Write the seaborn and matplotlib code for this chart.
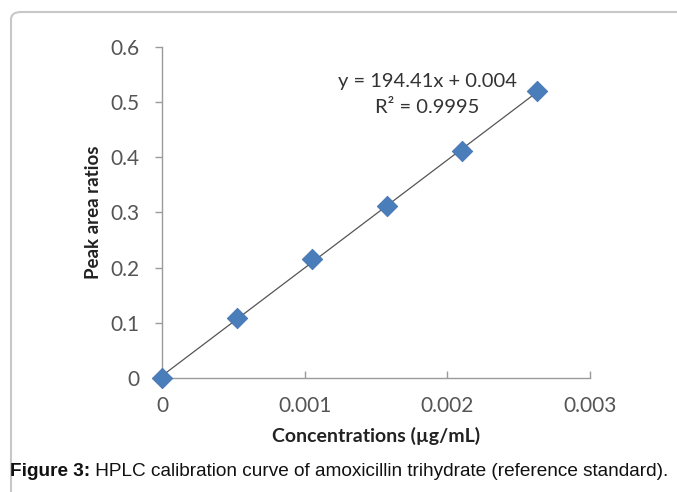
import numpy as np
import pandas as pd
import seaborn as sns
import matplotlib.pyplot as plt
from matplotlib.patches import FancyBboxPatch

conc = [0.0, 0.000526, 0.001052, 0.001578, 0.002104, 0.00263]
ratio = [0.0, 0.109, 0.216, 0.311, 0.411, 0.520]
xticks = [0, 0.001, 0.002, 0.003]
xtick_labels = ["0", "0.001", "0.002", "0.003"]
yticks = [0, 0.1, 0.2, 0.3, 0.4, 0.5, 0.6]
ytick_labels = ["0", "0.1", "0.2", "0.3", "0.4", "0.5", "0.6"]
equation = "y = 194.41x + 0.004"
r2_text = "R² = 0.9995"
caption_bold = "Figure 3:"
caption_rest = " HPLC calibration curve of amoxicillin trihydrate (reference standard)."

df = pd.DataFrame({"conc": conc, "ratio": ratio})

sns.set_theme(style="white")
plt.rcParams['font.family'] = ['Lato', 'DejaVu Sans']

W, H = 677, 492
fig = plt.figure(figsize=(W / 100, H / 100), dpi=100)
fig.patch.set_facecolor("white")

# panel border (only top/left visible, continues beyond image)
border = FancyBboxPatch((11 / W, -0.1), 1.2, (H - 12) / H + 0.1,
                        boxstyle="round,pad=0,rounding_size=0.015",
                        transform=fig.transFigure, facecolor="none",
                        edgecolor="#c8c8c8", linewidth=1.5, clip_on=False)
fig.patches.append(border)

ax = fig.add_axes([162 / W, 1 - 378 / H, (590 - 162) / W, (378 - 47) / H])

sns.regplot(data=df, x="conc", y="ratio", ax=ax, scatter=False, ci=None,
            truncate=True, line_kws=dict(color="#555555", linewidth=0.9))
sns.scatterplot(data=df, x="conc", y="ratio", ax=ax, marker="D", s=110,
                color="#4a7ebb", edgecolor="#3e6fae", linewidth=0.5, zorder=5,
                clip_on=False)

ax.set_xlim(0, 0.003)
ax.set_ylim(0, 0.6)
ax.set_xticks(xticks)
ax.set_xticklabels(xtick_labels)
ax.set_yticks(yticks)
ax.set_yticklabels(ytick_labels)

for s in ["top", "right"]:
    ax.spines[s].set_visible(False)
for s in ["left", "bottom"]:
    ax.spines[s].set_color("#9a9a9a")
    ax.spines[s].set_linewidth(1.0)

ax.tick_params(axis="y", direction="out", length=5, width=1, color="#9a9a9a",
               labelsize=15, labelcolor="#555555", pad=11, left=True)
ax.tick_params(axis="x", direction="in", length=5, width=1, color="#9a9a9a",
               labelsize=15, labelcolor="#555555", pad=13, bottom=True)

ax.set_xlabel("Concentrations (µg/mL)", fontsize=14, fontweight="bold",
              color="#222222", labelpad=8)
ax.set_ylabel("Peak area ratios", fontsize=13.5, fontweight="bold",
              color="#222222", labelpad=6)

ax.text(0.00186, 0.5366, equation, ha="center", va="center", fontsize=14.5,
        color="#333333")
ax.text(0.00186, 0.4910, r2_text, ha="center", va="center", fontsize=14.5,
        color="#333333")

t1 = fig.text(10 / W, 1 - 472 / H, caption_bold, fontsize=13.7, fontweight="bold",
              family="Liberation Sans", va="center", ha="left", color="#111111")
fig.canvas.draw()
bb = t1.get_window_extent()
fig.text(bb.x1 / W, 1 - 472 / H, caption_rest, fontsize=13.7,
         family="Liberation Sans", va="center", ha="left", color="#111111")

fig.savefig("out.png", dpi=100)
